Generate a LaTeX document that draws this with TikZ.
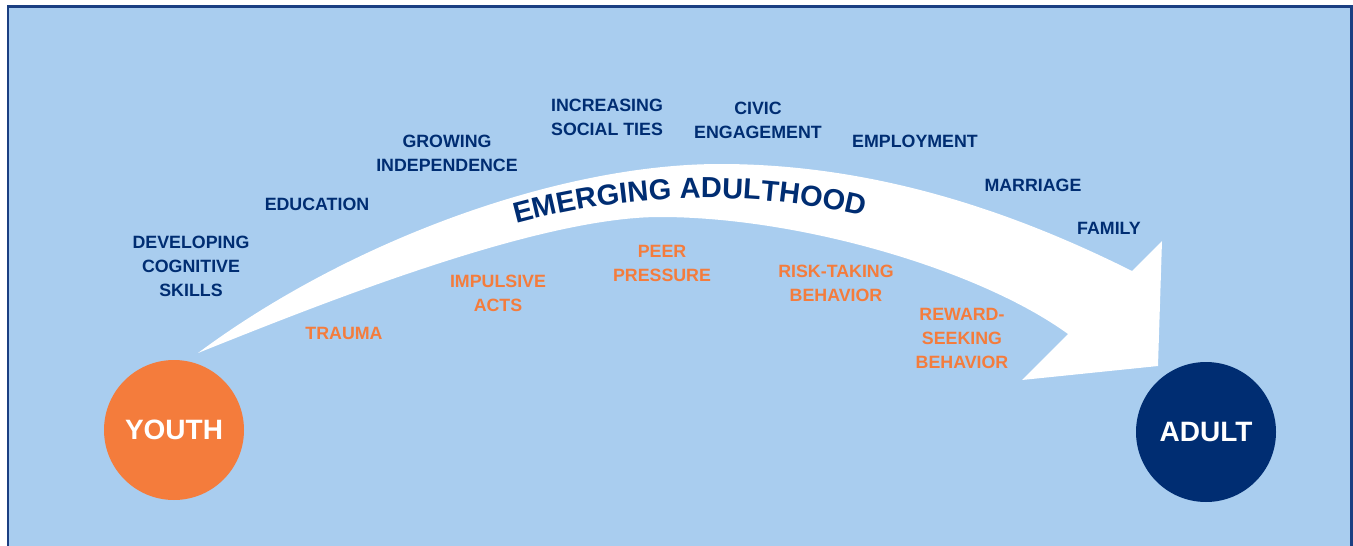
\documentclass[tikz,border=0pt]{standalone}
\usepackage{fontspec}
\setsansfont{Liberation Sans}
\usepackage{tikz}
\usetikzlibrary{decorations.text}

\definecolor{skyfill}{HTML}{A9CDEF}
\definecolor{navyblue}{HTML}{002D72}
\definecolor{stageorange}{HTML}{F47C3C}
\definecolor{frameblue}{HTML}{1B3F82}

\tikzset{
  gainlabel/.style={text=navyblue, align=center, font=\fontsize{17.8}{24}\sffamily\bfseries},
  risklabel/.style={text=stageorange, align=center, font=\fontsize{17.8}{24}\sffamily\bfseries},
  stage/.style={circle, minimum size=140pt, inner sep=0pt, text=white, font=\fontsize{28}{28}\sffamily\bfseries}
}

\begin{document}
\begin{tikzpicture}[x=1pt, y=-1pt]
            \useasboundingbox (0,0) rectangle (1353,546);
            \clip (0,0) rectangle (1353,546);
            \draw[frameblue, line width=2.5pt, fill=skyfill] (8,6.5) rectangle (1351.5,570);
            % the path from youth to adulthood
            \coordinate (tail) at (198,353);
            \coordinate (crest) at (720,164);
            \coordinate (barbtop) at (1132,271);
            \coordinate (headtop) at (1162,241);
            \coordinate (headbottom) at (1158,366);
            \coordinate (barbbottom) at (1022,380);
            \coordinate (notch) at (1068,334);
            \coordinate (hollow) at (660,217);
            \fill[white] (tail) .. controls (350,240) and (560,164) .. (crest)
                .. controls (880,164) and (1020,215) .. (barbtop)
                -- (headtop) -- (headbottom) -- (barbbottom) -- (notch)
                .. controls (980,270) and (800,217) .. (hollow)
                .. controls (540,217) and (330,300) .. (tail) -- cycle;
            \path[decorate, decoration={text along path, text align=center,
                text={|\fontsize{29}{29}\sffamily\bfseries\color{navyblue}|EMERGING ADULTHOOD}}]
                (490,231) .. controls (623,190) and (757,187) .. (890,223);
            % stages
            \node[stage, fill=stageorange] (youth) at (174,430) {YOUTH};
            \node[stage, fill=navyblue] (adult) at (1206,432) {ADULT};
            % above the path
            \node[gainlabel] (cognitive) at (191,266) {DEVELOPING\\COGNITIVE\\SKILLS};
            \node[gainlabel] (education) at (317,204) {EDUCATION};
            \node[gainlabel] (independence) at (447,153) {GROWING\\INDEPENDENCE};
            \node[gainlabel] (socialties) at (607,117) {INCREASING\\SOCIAL TIES};
            \node[gainlabel] (civic) at (758,120) {CIVIC\\ENGAGEMENT};
            \node[gainlabel] (employment) at (915,141) {EMPLOYMENT};
            \node[gainlabel] (marriage) at (1033,185) {MARRIAGE};
            \node[gainlabel] (family) at (1109,228) {FAMILY};
            % below the path
            \node[risklabel] (trauma) at (344,333) {TRAUMA};
            \node[risklabel] (impulsive) at (498,293) {IMPULSIVE\\ACTS};
            \node[risklabel] (peer) at (662,263) {PEER\\PRESSURE};
            \node[risklabel] (risktaking) at (836,283) {RISK-TAKING\\BEHAVIOR};
            \node[risklabel] (rewardseeking) at (962,338) {REWARD-\\SEEKING\\BEHAVIOR};
        \end{tikzpicture}
\end{document}
